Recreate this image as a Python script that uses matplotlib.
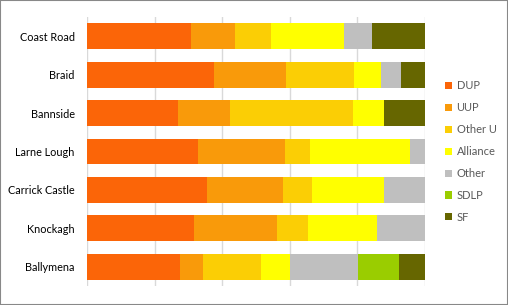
import matplotlib
matplotlib.use("Agg")
import matplotlib.pyplot as plt
from matplotlib.patches import Rectangle
import numpy as np

plt.rcParams['font.family'] = ['Lato', 'DejaVu Sans']

# wards, top to bottom as shown
wards = ['Coast Road', 'Braid', 'Bannside', 'Larne Lough', 'Carrick Castle', 'Knockagh', 'Ballymena']
parties = ['DUP', 'UUP', 'Other U', 'Alliance', 'Other', 'SDLP', 'SF']

# vote share (%) per ward
dup = [30.7, 37.5, 27.0, 32.9, 35.6, 31.7, 27.6]
uup = [13.1, 21.5, 15.4, 25.8, 22.5, 24.6, 6.8]
other_u = [10.7, 20.1, 36.4, 7.4, 8.6, 9.2, 17.2]
alliance = [21.6, 8.0, 9.2, 29.6, 21.3, 20.4, 8.5]
other = [8.3, 5.9, 0.0, 4.3, 12.0, 14.1, 20.2]
sdlp = [0.0, 0.0, 0.0, 0.0, 0.0, 0.0, 12.1]
sf = [15.6, 7.0, 12.0, 0.0, 0.0, 0.0, 7.6]

colors = ['#FB6508', '#F99A0A', '#FBCE05', '#FFFF00', '#BFBFBF', '#9ACD00', '#666600']

series = [dup, uup, other_u, alliance, other, sdlp, sf]

fig = plt.figure(figsize=(5.08, 3.05), dpi=100)
ax = fig.add_axes([87 / 508, 1 - 286 / 305, 337.5 / 508, 269 / 305])

y = np.arange(len(wards))
left = np.zeros(len(wards))
for vals, name, c in zip(series, parties, colors):
    vals = np.array(vals)
    ax.barh(y, vals, left=left, height=0.67, color=c, label=name)
    left += vals

ax.set_xlim(0, 100)
ax.set_ylim(len(wards) - 0.5, -0.5)
ax.set_yticks(y)
ax.set_yticklabels(wards, fontsize=7.8, color='#000000')
ax.set_xticks([0, 20, 40, 60, 80, 100])
ax.set_xticklabels([])
ax.tick_params(length=0, pad=9)
ax.grid(axis='x', color='#D9D9D9', linewidth=1)
ax.set_axisbelow(True)
for s in ax.spines.values():
    s.set_visible(False)

ax.legend(loc='upper left', bbox_to_anchor=(441 / 508, 1 - 76 / 305), bbox_transform=fig.transFigure,
          frameon=False, fontsize=8, labelcolor='#595959', handlelength=0.6, handleheight=0.6,
          handletextpad=0.4, labelspacing=0.98, borderaxespad=0)

fig.patches.append(Rectangle((0, 0), 1, 1, transform=fig.transFigure, fill=False,
                             edgecolor='#888888', linewidth=1.5))

fig.savefig('out.png', dpi=100)
